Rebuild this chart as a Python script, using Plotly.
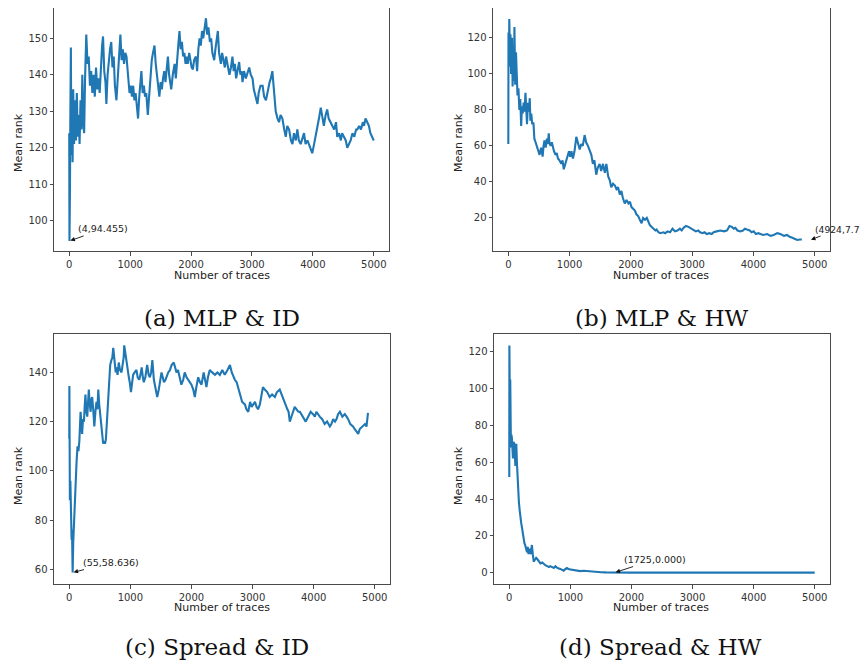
import plotly.graph_objects as go

# ---------------- data ----------------
a_x = [0, 4, 8, 12, 18, 27, 35, 45, 55, 65, 80, 95, 110, 125, 140, 155, 170, 185, 200, 215, 230, 245,
       260, 280, 300, 320, 340, 360, 380, 400, 420, 440, 460, 480, 500, 520, 540, 555, 575, 595, 610,
       630, 650, 670, 690, 710, 730, 750, 775, 800, 820, 840, 860, 880, 900, 920, 940, 960, 990, 1010,
       1030, 1050, 1070, 1090, 1110, 1130, 1150, 1170, 1185, 1205, 1225, 1245, 1265, 1290, 1310, 1330,
       1355, 1375, 1400, 1420, 1440, 1460, 1480, 1500, 1520, 1540, 1560, 1580, 1600, 1620, 1640, 1660,
       1675, 1700, 1730, 1750, 1770, 1790, 1810, 1830, 1850, 1870, 1890, 1910, 1930, 1945, 1970, 1990,
       2010, 2030, 2050, 2080, 2100, 2120, 2140, 2160, 2180, 2200, 2220, 2245, 2265, 2285, 2310, 2330,
       2350, 2380, 2400, 2420, 2440, 2460, 2490, 2510, 2530, 2555, 2575, 2600, 2630, 2655, 2680, 2700,
       2720, 2740, 2760, 2790, 2810, 2830, 2845, 2870, 2900, 2930, 2955, 2980, 3010, 3030, 3060, 3090,
       3110, 3140, 3175, 3200, 3230, 3260, 3290, 3310, 3335, 3350, 3370, 3390, 3420, 3445, 3470, 3500,
       3530, 3555, 3580, 3610, 3640, 3665, 3690, 3720, 3745, 3770, 3800, 3830, 3855, 3880, 3910, 3935,
       3960, 3990, 4020, 4045, 4070, 4100, 4130, 4155, 4180, 4210, 4235, 4260, 4290, 4320, 4350, 4380,
       4400, 4430, 4460, 4480, 4510, 4540, 4565, 4590, 4620, 4650, 4680, 4710, 4730, 4760, 4790, 4820,
       4840, 4865, 4890, 4920, 4945, 4970, 5000]
a_y = [124, 94.455, 120, 109, 128, 147.5, 118, 131, 116, 136, 121, 133, 122, 135, 123, 129, 121, 133,
       125, 140, 127, 124, 139, 151, 143, 145, 137, 141, 135, 140, 134, 142, 136, 139, 135, 144, 148,
       150.5, 141, 138, 132, 140, 145, 147, 149, 142, 145, 137, 133, 140, 146, 151, 144, 147, 143, 146,
       145, 140, 135, 137, 134, 137, 133, 135, 131, 128, 134, 137, 141, 135, 137, 134, 135, 129, 134,
       140, 144, 146, 148, 143, 140, 137, 134, 138, 136, 139, 141, 138, 142, 145, 140, 138, 136, 140,
       143, 139, 145, 148, 152, 147, 149, 145, 146, 143, 145, 143, 146, 144, 142, 141.5, 144, 145, 141,
       147, 150, 148, 152, 150, 153, 155.5, 151, 153, 149, 150, 146, 144, 147, 149, 152, 146, 143, 146,
       144, 142, 145, 143, 140, 142, 145, 141, 143, 139, 141, 143.5, 140, 141, 138, 141, 139, 141, 142,
       140, 139, 136, 134, 132, 135, 137, 137, 134, 133, 136, 138, 139, 141, 138, 133, 130, 128, 127,
       129, 128, 125, 123, 126, 125, 122, 121, 124, 122, 125, 122, 121, 123, 124, 121, 122, 121, 120,
       118.5, 121, 123, 125, 128, 131, 128, 126, 129, 130.5, 128, 127, 126, 125, 127, 123, 124, 122,
       124, 123, 122, 120, 121, 122, 124, 123, 125, 125, 126, 125, 127, 126, 128, 127, 126, 124, 123,
       122]

b_x = [0, 3, 8, 16, 25, 35, 45, 60, 70, 80, 90, 100, 112, 125, 135, 150, 165, 180, 195, 210, 222,
       235, 250, 265, 280, 292, 305, 320, 335, 350, 360, 375, 390, 410, 425, 445, 465, 490, 510, 535,
       560, 575, 590, 610, 630, 645, 660, 670, 690, 710, 725, 745, 770, 790, 810, 835, 865, 885, 905,
       930, 950, 970, 990, 1010, 1030, 1055, 1080, 1110, 1135, 1165, 1190, 1215, 1245, 1270, 1300,
       1330, 1355, 1380, 1405, 1435, 1460, 1490, 1515, 1545, 1575, 1600, 1630, 1655, 1680, 1710, 1740,
       1765, 1790, 1820, 1845, 1870, 1900, 1930, 1960, 1985, 2010, 2040, 2065, 2090, 2120, 2145, 2175,
       2200, 2230, 2260, 2285, 2310, 2340, 2370, 2400, 2420, 2450, 2480, 2530, 2560, 2600, 2640, 2680,
       2720, 2760, 2800, 2830, 2860, 2900, 2940, 2980, 3020, 3060, 3100, 3130, 3170, 3200, 3240, 3280,
       3320, 3350, 3400, 3460, 3520, 3570, 3610, 3650, 3680, 3705, 3740, 3785, 3830, 3860, 3895, 3940,
       3970, 4005, 4040, 4080, 4115, 4160, 4225, 4280, 4330, 4390, 4440, 4500, 4550, 4590, 4635, 4680,
       4715, 4760, 4790, 4825, 4870, 4900, 4924, 4960, 5000]
b_y = [61, 123, 104, 130.5, 112, 122, 100, 120, 93, 110, 96, 126, 94, 112, 101, 88, 92, 80, 86, 71,
       82, 78, 84, 79, 89.5, 80, 72, 84, 79, 86.5, 74, 78, 72, 73, 64, 62, 60, 57, 55, 59, 54, 60, 63,
       59, 64, 61, 67, 62, 60, 62, 59, 57, 55, 56, 53, 52, 50, 52, 47, 50, 53, 55, 57, 54, 57, 53, 57,
       65, 61, 58, 61, 60, 66, 62, 60, 57, 55, 50, 52, 44, 48, 50, 46, 50, 45, 50, 43, 41, 37, 39, 38,
       36, 37, 33, 35, 31, 28, 30, 28, 29, 26, 25, 24, 22, 21, 19, 17, 20, 19, 20, 18, 16, 15, 14, 13,
       13.5, 12, 11.5, 12, 11.5, 12.5, 12, 14, 12.5, 13, 14, 13, 14.5, 15.5, 15, 14, 13, 12.5, 13,
       12, 11.5, 12, 11, 11.5, 11, 12, 12.5, 13, 12.5, 13, 15.5, 15, 14, 14.5, 13, 12.5, 13, 14,
       13.5, 13, 12, 12.5, 11, 11.5, 11, 10.5, 11, 10, 10.5, 11.5, 11, 10, 10.5, 9.5, 9, 8.5, 7.7, 8,
       8]

c_x = [0, 2, 6, 10, 18, 27, 38, 45, 55, 65, 72, 80, 90, 100, 110, 120, 135, 150, 165, 175, 185,
       198, 210, 225, 240, 252, 265, 280, 295, 308, 320, 335, 350, 362, 375, 392, 410, 428, 445, 460,
       475, 490, 500, 515, 530, 545, 555, 570, 585, 600, 612, 620, 635, 650, 670, 690, 705, 720, 730,
       745, 760, 775, 790, 810, 830, 855, 875, 890, 900, 915, 930, 940, 960, 975, 990, 1010, 1025,
       1045, 1070, 1100, 1120, 1145, 1165, 1185, 1205, 1220, 1245, 1275, 1300, 1320, 1340, 1360, 1385,
       1410, 1440, 1465, 1490, 1510, 1530, 1550, 1575, 1600, 1620, 1650, 1675, 1710, 1735, 1755, 1780,
       1810, 1835, 1865, 1890, 1920, 1950, 1980, 2000, 2030, 2055, 2080, 2110, 2140, 2165, 2200, 2220,
       2245, 2270, 2300, 2340, 2385, 2425, 2465, 2505, 2545, 2590, 2630, 2660, 2685, 2710, 2740, 2765,
       2790, 2830, 2875, 2900, 2930, 2960, 2985, 3010, 3040, 3065, 3090, 3120, 3145, 3170, 3200, 3240,
       3280, 3320, 3365, 3400, 3445, 3490, 3530, 3570, 3590, 3610, 3650, 3690, 3720, 3750, 3775, 3800,
       3830, 3870, 3910, 3950, 3990, 4020, 4045, 4070, 4100, 4140, 4180, 4220, 4265, 4290, 4320, 4350,
       4375, 4400, 4430, 4470, 4510, 4540, 4565, 4600, 4645, 4670, 4700, 4730, 4755, 4800, 4840, 4865,
       4890, 4920, 4950, 4975, 4990, 5000]
c_y = [113, 134.5, 112, 88, 96, 80, 72, 76, 58.636, 71, 76, 78, 88, 95, 101, 104, 110, 108, 112,
       118, 124, 119, 115, 121, 120, 126, 131, 124, 122, 128, 133, 127, 124, 129, 130, 125, 118, 124,
       128, 125, 133, 127, 124, 121, 118, 113, 111, 112, 111, 113, 118, 125, 132, 138, 143, 145, 146,
       150, 147, 143, 140, 142, 139, 144, 141, 140, 143, 146, 151, 148, 145, 143, 141, 138, 136, 132,
       135, 139, 140, 141, 138, 137, 139, 142, 138, 136, 138, 143, 139, 138, 140, 145, 137, 134, 130,
       133, 137, 140, 138, 136, 137, 139, 140, 141, 143, 144, 142, 140, 141, 138, 135, 137, 140, 138,
       137, 136, 135, 133, 130, 134, 138, 136, 135, 140, 137, 134, 138, 141, 140, 139, 140, 139, 141,
       139, 141, 143, 140, 138, 137, 136, 134, 132, 128, 127, 125, 124, 128, 126, 127, 128, 126, 125,
       127, 131, 134, 133, 132, 130, 131, 130, 132, 133, 130, 127, 125, 124, 120, 123, 126, 125, 124,
       124, 123, 122, 120, 122, 124, 123, 122, 124, 123, 122, 121, 119, 120, 118, 119, 121, 120, 121,
       123, 124, 122, 123, 122, 121, 119, 118, 117, 116, 115, 117, 118, 119, 118, 123.5]

d_x = [0, 2, 5, 10, 16, 22, 27, 35, 44, 52, 60, 70, 82, 92, 100, 108, 115, 125, 135, 145, 158, 170,
       180, 195, 210, 222, 235, 248, 260, 275, 290, 302, 315, 330, 345, 358, 370, 385, 400, 420, 440,
       455, 480, 510, 540, 570, 590, 620, 650, 670, 700, 730, 755, 790, 835, 865, 890, 920, 945, 980,
       1020, 1055, 1090, 1110, 1160, 1220, 1275, 1330, 1390, 1435, 1500, 1580, 1660, 1725, 2000, 2500,
       3000, 3500, 4000, 4500, 5000]
d_y = [52, 123.5, 52, 90, 105, 80, 68, 75, 73, 66, 62, 71, 70, 63, 58, 66, 70, 60, 50, 44, 38, 34,
       30, 27, 24, 21, 18, 16, 15, 12, 11, 14, 10, 13, 10, 12, 15, 10, 6, 7, 8, 7.5, 6, 5, 5.5, 4.5,
       4, 3.5, 3, 3.5, 3, 2.5, 3.5, 2.5, 2, 1.5, 1, 2, 2.5, 1.8, 1.5, 1.5, 1, 1.2, 0.8, 1, 0.8, 0.6,
       0.4, 0.3, 0.2, 0.1, 0.05, 0, 0, 0, 0, 0, 0, 0, 0]

x_ticks = [0, 1000, 2000, 3000, 4000, 5000]
a_yticks = [100, 110, 120, 130, 140, 150]
b_yticks = [20, 40, 60, 80, 100, 120]
c_yticks = [60, 80, 100, 120, 140]
d_yticks = [0, 20, 40, 60, 80, 100, 120]

captions = ["(a) MLP &amp; ID", "(b) MLP &amp; HW", "(c) Spread &amp; ID", "(d) Spread &amp; HW"]

# ---------------- figure ----------------
# page body has an 8px margin, so the figure is 860x656 and all pixel
# positions below are measured in the 868x664 window and shifted by 8px
OFF = 8
W, H = 860, 656
LINE = "#1f77b4"
FRAME = "#4a4a4a"
TICKFONT = dict(family="DejaVu Sans", size=10, color="#333333")


def px(x):
    return (x - OFF) / W


def py(y):
    return 1 - (y - OFF) / H


fig = go.Figure()

panels = [
    (a_x, a_y, (54, 389), (3, 251), [91.7, 158.3], a_yticks),
    (b_x, b_y, (493, 830), (3, 251), [1.6, 136.6], b_yticks),
    (c_x, c_y, (54, 390), (334, 584), [54.0, 155.6], c_yticks),
    (d_x, d_y, (494, 830), (334, 584), [-6.2, 129.7], d_yticks),
]

layout = dict(
    width=W, height=H, margin=dict(l=0, r=0, t=0, b=0),
    paper_bgcolor="white", plot_bgcolor="white", showlegend=False,
)

for i, (xs, ys, (xl, xr), (yt, yb), yr, yt_vals) in enumerate(panels, start=1):
    xa = "xaxis" if i == 1 else f"xaxis{i}"
    ya = "yaxis" if i == 1 else f"yaxis{i}"
    fig.add_trace(go.Scatter(x=xs, y=ys, mode="lines",
                             line=dict(color=LINE, width=2.1),
                             xaxis=f"x{i}" if i > 1 else "x",
                             yaxis=f"y{i}" if i > 1 else "y",
                             hoverinfo="skip"))
    layout[xa] = dict(domain=[max(px(xl), 0), min(px(xr), 1)], range=[-250, 5250],
                      anchor=f"y{i}" if i > 1 else "y",
                      tickvals=x_ticks, ticks="outside", ticklen=3.5, tickcolor=FRAME,
                      showline=True, linecolor=FRAME, linewidth=1, mirror=True,
                      showgrid=False, zeroline=False, tickfont=TICKFONT)
    layout[ya] = dict(domain=[max(py(yb), 0), min(py(yt), 1)], range=yr,
                      anchor=f"x{i}" if i > 1 else "x",
                      tickvals=yt_vals, ticks="outside", ticklen=3.5, tickcolor=FRAME,
                      showline=True, linecolor=FRAME, linewidth=1, mirror=True,
                      showgrid=False, zeroline=False, tickfont=TICKFONT)

fig.update_layout(**layout)

ann = []
for (cx, cy) in [(222, 275), (661, 275), (222, 607), (661, 607)]:
    ann.append(dict(text="Number of traces", x=px(cx), y=py(cy), xref="paper", yref="paper",
                    showarrow=False, font=dict(family="DejaVu Sans", size=11, color="#222222"),
                    xanchor="center", yanchor="middle"))
for (cx, cy) in [(18, 143), (458, 143), (18, 476), (458, 476)]:
    ann.append(dict(text="Mean rank", x=px(cx), y=py(cy), xref="paper", yref="paper",
                    showarrow=False, textangle=-90,
                    font=dict(family="DejaVu Sans", size=11, color="#222222"),
                    xanchor="center", yanchor="middle"))
for txt, (cx, cy) in zip(captions, [(222, 318), (661, 318), (217, 647), (660, 647)]):
    ann.append(dict(text=txt, x=px(cx), y=py(cy), xref="paper", yref="paper",
                    showarrow=False, font=dict(family="DejaVu Serif", size=23, color="#111111"),
                    xanchor="center", yanchor="middle"))

pts = [
    ("(4,94.455)", 4, 94.455, "x", "y", 34, -12, 9.5),
    ("(4924,7.7)", 4924, 7.7, "x2", "y2", 29, -11, 9.2),
    ("(55,58.636)", 55, 58.636, "x3", "y3", 38, -10, 9.5),
    ("(1725,0.000)", 1725, 0.0, "x4", "y4", 40, -13, 9.5),
]
for txt, ptx, pty, xr, yr, ax, ay, fs in pts:
    ann.append(dict(text=txt, x=ptx, y=pty, xref=xr, yref=yr, showarrow=True,
                    ax=ax, ay=ay, arrowhead=2, arrowsize=1, arrowwidth=0.9,
                    arrowcolor="#111111", standoff=1,
                    font=dict(family="DejaVu Sans", size=fs, color="#222222")))

fig.update_layout(annotations=ann)
fig.write_html("out.html")
